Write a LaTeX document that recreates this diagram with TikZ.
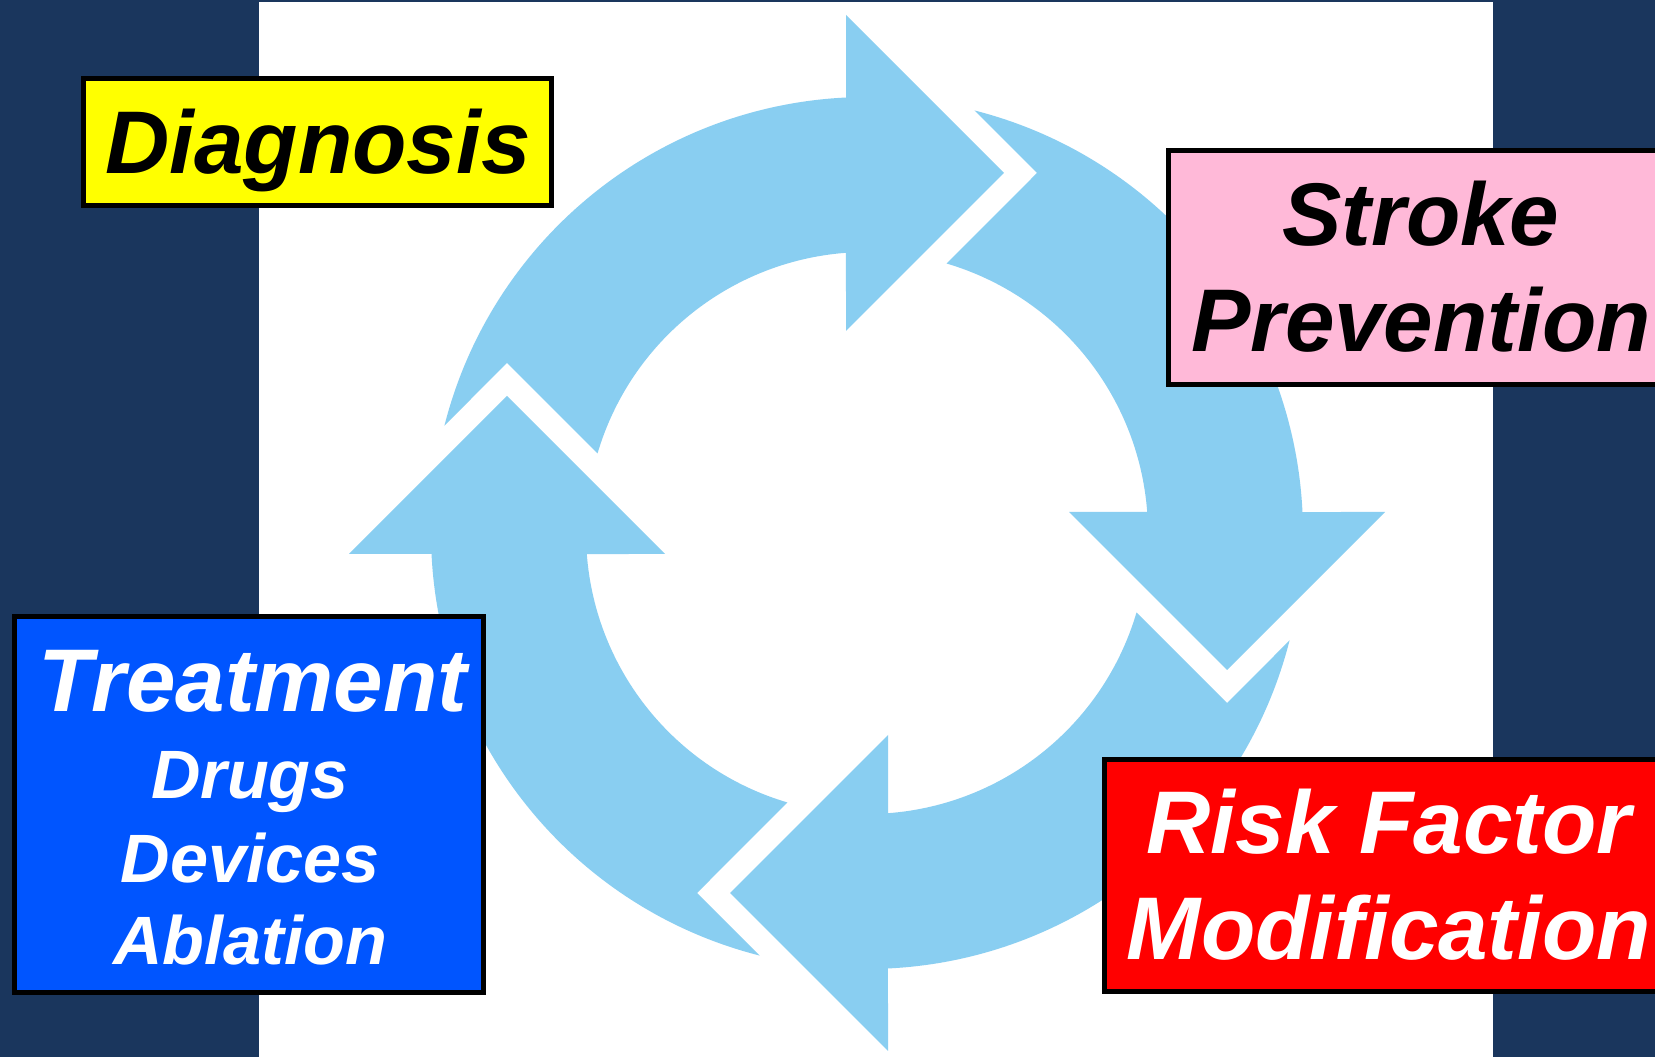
\documentclass[tikz,border=0pt]{standalone}
\usepackage{fontspec}
\setmainfont{Liberation Sans}
\definecolor{navy}{RGB}{26,54,93}
\definecolor{arrowblue}{RGB}{137,206,241}
\definecolor{pinkbox}{RGB}{255,185,216}
\definecolor{bluebox}{RGB}{0,85,255}
\definecolor{yellowbox}{RGB}{255,255,0}
\definecolor{redbox}{RGB}{255,0,0}
\begin{document}
\begin{tikzpicture}[x=1pt,y=1pt,
  box/.style={draw=black, line width=5pt, inner sep=0pt, rectangle},
  bigtxt/.style={font=\fontsize{89}{106}\selectfont\bfseries\itshape, anchor=base, inner sep=0pt},
  smalltxt/.style={font=\fontsize{68.4}{82}\selectfont\bfseries\itshape, anchor=base, inner sep=0pt},
  cyc/.style={fill=arrowblue}]
\useasboundingbox (0,0) rectangle (1655,1057);
\clip (0,0) rectangle (1655,1057);
\fill[navy] (0,0) rectangle (1655,1057);
\fill[white] (259,0) rectangle (1493,1055);
% cycle of four arrows
\foreach \k in {0,1,2,3} {
  \begin{scope}[shift={(867,524)}, rotate=90*\k]
    \fill[cyc] (165.73:436) arc[start angle=165.73, end angle=92.76, radius=436]
      -- (-21,518) -- (137,360) -- (-21,202) -- (94.29:281)
      arc[start angle=94.29, end angle=163.56, radius=281]
      -- (-360,170) -- cycle;
  \end{scope}
}
% Diagnosis
\node[box, fill=yellowbox, minimum width=467.3pt, minimum height=126.4pt] (diag) at (317.6,915) {};
\node[bigtxt] (diagT) at (318,883) {Diagnosis};
% Stroke Prevention
\node[box, fill=pinkbox, minimum width=503.7pt, minimum height=234pt] (stroke) at (1420,789.8) {};
\node[bigtxt] (strokeA) at (1421,811) {Stroke};
\node[bigtxt] (strokeB) at (1421,705.3) {Prevention};
% Treatment
\node[box, fill=bluebox, minimum width=469.5pt, minimum height=376pt] (treat) at (248.75,252.5) {};
\node[bigtxt, text=white] (treatA) at (253,345.3) {Treatment};
\node[smalltxt, text=white] (drugs) at (250,258) {Drugs};
\node[smalltxt, text=white] (devices) at (250,174.7) {Devices};
\node[smalltxt, text=white] (ablation) at (250,92) {Ablation};
% Risk Factor Modification
\node[box, fill=redbox, minimum width=570pt, minimum height=232.6pt] (risk) at (1389,181.5) {};
\node[bigtxt, text=white] (riskA) at (1389,203) {Risk Factor};
\node[bigtxt, text=white] (riskB) at (1389,97) {Modification};
\end{tikzpicture}
\end{document}
